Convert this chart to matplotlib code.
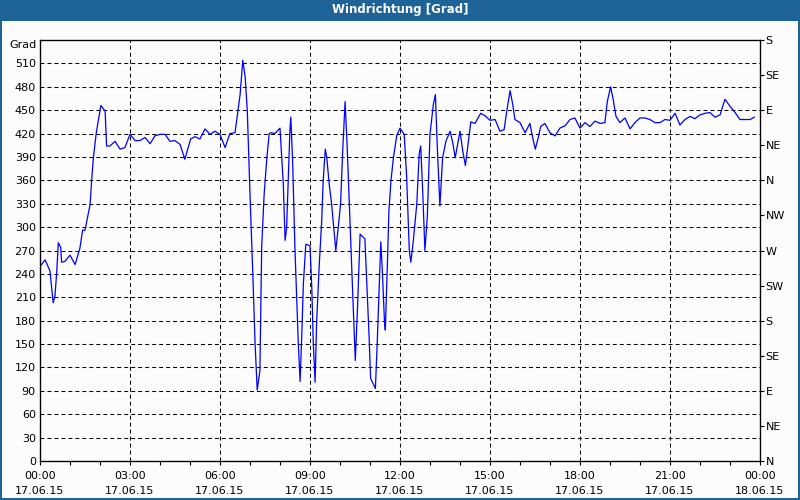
import matplotlib.pyplot as plt
from matplotlib.patches import Rectangle
from matplotlib.ticker import MultipleLocator

# hours since 17.06.15 00:00 and wind direction in degrees
hours = [0.03, 0.17, 0.33, 0.44, 0.50, 0.56, 0.61, 0.69, 0.72, 0.83, 1.0, 1.17, 1.33, 1.42,
         1.50, 1.67, 1.72, 1.78, 1.87, 1.94, 2.03, 2.17, 2.22, 2.33, 2.50, 2.67, 2.83, 3.0,
         3.17, 3.33, 3.50, 3.67, 3.83, 4.0, 4.17, 4.33, 4.50, 4.67, 4.83, 5.02, 5.17, 5.33,
         5.50, 5.67, 5.83, 6.0, 6.17, 6.33, 6.50, 6.67, 6.76, 6.84, 6.91, 7.0, 7.09, 7.17,
         7.24, 7.33, 7.39, 7.47, 7.56, 7.64, 7.69, 7.83, 8.0, 8.06, 8.11, 8.17, 8.22, 8.33,
         8.36, 8.42, 8.50, 8.56, 8.61, 8.67, 8.72, 8.78, 8.86, 9.0, 9.06, 9.11, 9.17, 9.22,
         9.31, 9.39, 9.44, 9.51, 9.56, 9.64, 9.72, 9.80, 9.86, 9.94, 10.02, 10.09, 10.17,
         10.24, 10.31, 10.39, 10.44, 10.51, 10.58, 10.67, 10.83, 10.89, 10.97, 11.02, 11.18,
         11.24, 11.31, 11.36, 11.41, 11.48, 11.51, 11.58, 11.63, 11.70, 11.78, 11.89, 12.0,
         12.14, 12.22, 12.31, 12.36, 12.44, 12.56, 12.64, 12.69, 12.76, 12.83, 12.91, 13.0,
         13.11, 13.18, 13.24, 13.33, 13.42, 13.53, 13.67, 13.76, 13.84, 14.0, 14.09, 14.18,
         14.28, 14.36, 14.50, 14.69, 14.83, 15.0, 15.17, 15.33, 15.47, 15.56, 15.67, 15.76,
         15.83, 16.0, 16.17, 16.33, 16.42, 16.51, 16.61, 16.69, 16.83, 17.0, 17.17, 17.33,
         17.50, 17.67, 17.83, 18.0, 18.17, 18.33, 18.50, 18.67, 18.83, 18.91, 19.02, 19.11,
         19.20, 19.33, 19.50, 19.67, 19.83, 20.0, 20.17, 20.33, 20.50, 20.67, 20.83, 21.0,
         21.17, 21.33, 21.50, 21.67, 21.83, 22.0, 22.17, 22.33, 22.50, 22.67, 22.83, 23.0,
         23.17, 23.33, 23.50, 23.67, 23.81]
grad = [251, 258, 244, 203, 212, 244, 280, 274, 255, 256, 264, 252, 273, 296,
        296, 329, 359, 389, 419, 436, 456, 449, 404, 404, 410, 400, 402, 419,
        411, 411, 415, 407, 417, 419, 419, 410, 411, 406, 387, 413, 416, 413,
        426, 419, 423, 419, 402, 420, 421, 470, 514, 492, 449, 342, 244, 150,
        91, 116, 275, 341, 388, 420, 421, 420, 427, 389, 355, 283, 299, 423,
        441, 385, 270, 206, 151, 102, 155, 228, 278, 276, 222, 151, 101, 177,
        253, 308, 360, 400, 389, 355, 330, 296, 270, 299, 330, 398, 461,
        402, 330, 249, 198, 129, 193, 291, 285, 232, 159, 106, 93,
        151, 228, 281, 245, 181, 168, 253, 321, 360, 389, 417, 427,
        419, 366, 270, 255, 281, 330, 394, 404, 343, 270, 313, 419,
        457, 470, 406, 327, 389, 410, 423, 408, 389, 423, 398, 379,
        410, 435, 433, 446, 443, 437, 438, 423, 425, 449, 475, 457,
        438, 434, 421, 433, 415, 400, 415, 429, 433, 421, 417, 427,
        430, 438, 440, 427, 434, 429, 436, 433, 434, 461, 480, 463,
        442, 434, 440, 426, 434, 440, 440, 438, 434, 434, 438, 437,
        446, 431, 438, 442, 439, 444, 446, 447, 441, 444, 464, 455,
        447, 438, 438, 438, 441]

x_ticks = [0, 3, 6, 9, 12, 15, 18, 21, 24]
x_labels = ['00:00\n17.06.15', '03:00\n17.06.15', '06:00\n17.06.15', '09:00\n17.06.15',
            '12:00\n17.06.15', '15:00\n17.06.15', '18:00\n17.06.15', '21:00\n17.06.15',
            '00:00\n18.06.15']
compass_deg = [0, 45, 90, 135, 180, 225, 270, 315, 360, 405, 450, 495, 540]
compass_labels = ['N', 'NE', 'E', 'SE', 'S', 'SW', 'W', 'NW', 'N', 'NE', 'E', 'SE', 'S']

blue_frame = '#1d6397'
fs = 8

fig = plt.figure(figsize=(8, 5), dpi=100, facecolor=blue_frame)
# light inner panel below the title bar
fig.patches.append(Rectangle((2/800, 2/500), 796/800, 477/500, transform=fig.transFigure,
                             facecolor='#fbfcfb', edgecolor='none', zorder=-10))
fig.text(0.5, 1 - 10/500, 'Windrichtung [Grad]', color='white', fontsize=8.5,
         fontweight='bold', ha='center', va='center')

ax = fig.add_axes([40/800, 39/500, 720/800, 421/500])
ax.set_facecolor('#fbfcfb')
ax.plot(hours, grad, color='#0000ff', linewidth=0.9, zorder=3)

ax.set_xlim(0, 24)
ax.set_ylim(0, 540)
ax.set_yticks(range(0, 540, 30))
ax.tick_params(axis='y', length=0, pad=3, labelsize=fs)
ax.set_xticks(x_ticks)
ax.set_xticklabels(x_labels, fontsize=fs, linespacing=1.6)
ax.xaxis.set_minor_locator(MultipleLocator(1))
ax.tick_params(axis='x', which='both', length=3, width=0.8, pad=4)

ax.grid(True, which='major', color='black', linestyle=(0, (3.8, 2.9)), linewidth=0.75)
for s in ax.spines.values():
    s.set_linewidth(0.9)
    s.set_color('black')
ax.text(-0.004, 1.0, 'Grad', transform=ax.transAxes, ha='right', va='top', fontsize=fs)

ax2 = ax.twinx()
ax2.set_ylim(0, 540)
ax2.set_yticks(compass_deg)
ax2.set_yticklabels(compass_labels, fontsize=fs)
ax2.tick_params(axis='y', length=3, width=0.8, pad=1)

fig.savefig('out.png', dpi=100, facecolor=blue_frame)
